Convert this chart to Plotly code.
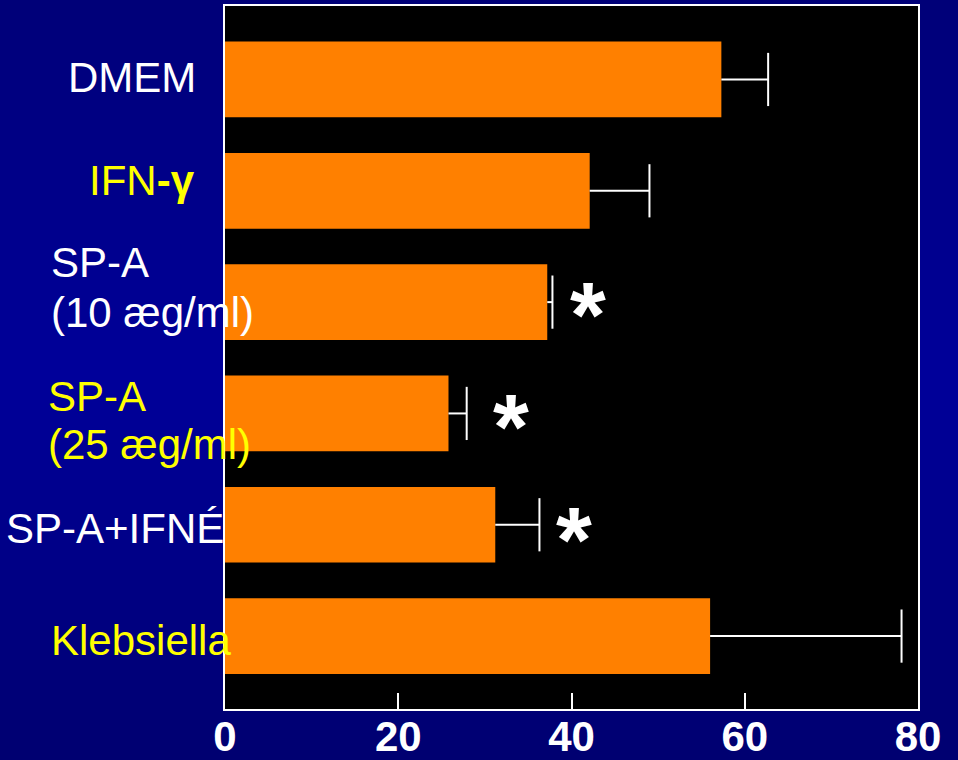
import plotly.graph_objects as go

# ---- data ----
categories = ["DMEM", "IFN-γ", "SP-A (10 æg/ml)", "SP-A (25 æg/ml)", "SP-A+IFNÉ", "Klebsiella"]
label_lines = [["DMEM"], ["IFN<b>-γ</b>"], ["SP-A", "(10 æg/ml)"], ["SP-A", "(25 æg/ml)"],
               ["SP-A+IFNÉ"], ["Klebsiella"]]
values = [57.3, 42.1, 37.2, 25.8, 31.2, 56.0]
errors = [5.4, 6.9, 0.6, 2.1, 5.1, 22.1]
significant = [False, False, True, True, True, False]
x_ticks = [0, 20, 40, 60, 80]

# ---- style ----
label_colors = ["white", "#FFFF00", "white", "#FFFF00", "white", "#FFFF00"]
label_left_px = [66, 87, 49, 46, 4, 49]
label_yshift = [[2], [10], [40, -10], [17, -31], [-4], [-4]]
star_xshift = {2: 36, 3: 44, 4: 35}
star_yshift = {2: -13, 3: -14, 4: -15}
FONT = "Liberation Sans, Arial, sans-serif"
W, H = 958, 760
ML, MR, MT, MB = 225, 40, 6, 51

fig = go.Figure()
fig.add_trace(go.Bar(
    y=categories, x=values, orientation="h",
    marker=dict(color="#FF8000", line=dict(width=0)),
    width=0.68, showlegend=False, hoverinfo="x+y",
))

# one-sided error bars (stem + end cap)
ex, ey = [], []
for c, v, e in zip(categories, values, errors):
    ex += [v, v + e, None]
    ey += [c, c, None]
fig.add_trace(go.Scatter(x=ex, y=ey, mode="lines", line=dict(color="white", width=2),
                         showlegend=False, hoverinfo="skip"))
fig.add_trace(go.Scatter(
    x=[v + e for v, e in zip(values, errors)], y=categories, mode="markers",
    marker=dict(symbol="line-ns", size=38, line=dict(color="white", width=2)),
    showlegend=False, hoverinfo="skip"))

annotations = []
for i, c in enumerate(categories):
    for line, ys in zip(label_lines[i], label_yshift[i]):
        annotations.append(dict(
            text=line, xref="paper", x=0, xshift=label_left_px[i] - ML, xanchor="left",
            yref="y", y=c, yanchor="middle", yshift=ys, showarrow=False,
            font=dict(family=FONT, size=42, color=label_colors[i])))
    if significant[i]:
        annotations.append(dict(
            text="<b>*</b>", xref="x", x=values[i] + errors[i], xshift=star_xshift[i],
            xanchor="center", yref="y", y=c, yanchor="middle", yshift=star_yshift[i],
            showarrow=False, font=dict(family=FONT, size=92, color="white")))

# vertical blue gradient background built from thin stripes
pw, ph = W - ML - MR, H - MT - MB
def lerp(a, b, t):
    return a + (b - a) * t
shapes = []
n = 76
for k in range(n):
    y0px, y1px = k * H / n, (k + 1) * H / n + 1
    t = (k + 0.5) / n
    if t < 0.5:
        b = lerp(0x78, 0x9A, t / 0.5)
    else:
        b = lerp(0x9A, 0x70, (t - 0.5) / 0.5)
    col = "#0000%02X" % int(round(b))
    shapes.append(dict(type="rect", xref="paper", yref="paper", layer="below",
                       x0=-ML / pw, x1=(W - ML) / pw,
                       y0=(H - MB - y1px) / ph, y1=(H - MB - y0px) / ph,
                       fillcolor=col, line=dict(width=0)))
# black plotting area on top of the gradient
shapes.append(dict(type="rect", xref="paper", yref="paper", layer="below",
                   x0=0, x1=1, y0=0, y1=1, fillcolor="black", line=dict(width=0)))

fig.update_layout(
    width=W, height=H,
    margin=dict(l=ML, r=MR, t=MT, b=MB, pad=0, autoexpand=False),
    paper_bgcolor="#000088", plot_bgcolor="black",
    bargap=0.32, shapes=shapes, annotations=annotations,
    xaxis=dict(range=[0, 80], tickvals=x_ticks, ticks="inside", ticklen=16, tickwidth=1.5,
               tickcolor="white", showgrid=False, zeroline=False, automargin=False,
               showline=True, mirror=True, linecolor="white", linewidth=2,
               tickfont=dict(family=FONT, size=42, color="white", weight="bold"),
               ticklabelstandoff=-10),
    yaxis=dict(categoryorder="array", categoryarray=categories, range=[5.655, -0.66],
               showticklabels=False, ticks="", showgrid=False, zeroline=False, automargin=False,
               showline=True, mirror=True, linecolor="white", linewidth=2),
)

fig.write_html("out.html", config={"displayModeBar": False},
               post_script="document.body.style.margin='0';document.body.style.overflow='hidden';")
